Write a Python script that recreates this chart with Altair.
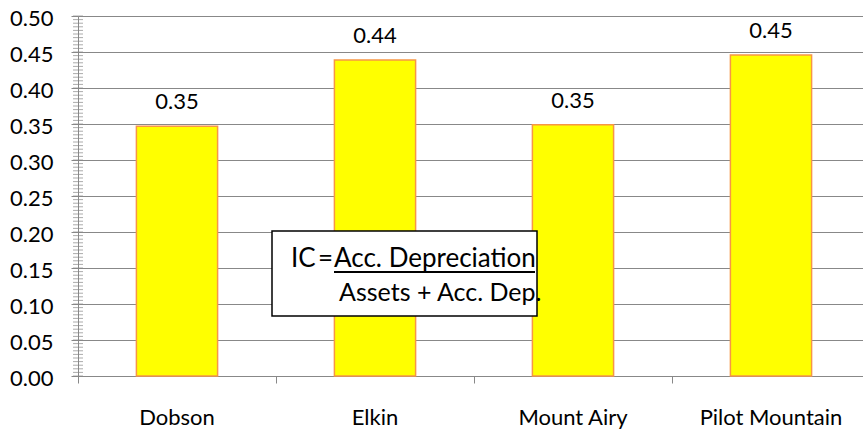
import altair as alt
import pandas as pd

# Index of Consumption per town
towns = ["Dobson", "Elkin", "Mount Airy", "Pilot Mountain"]
ic_values = [0.347, 0.439, 0.349, 0.446]

y_ticks = [0.0, 0.05, 0.10, 0.15, 0.20, 0.25, 0.30, 0.35, 0.40, 0.45, 0.50]

FONT = "Lato"
GRID = "#888888"

df = pd.DataFrame({"town": towns, "ic": ic_values})

x_scale = alt.Scale(range=[0, 792], paddingInner=0, paddingOuter=0)
y_scale = alt.Scale(domain=[0, 0.5], nice=False)

x_axis = alt.Axis(
    title=None,
    bandPosition=0,
    labelAngle=0,
    labelFont=FONT,
    labelFontSize=22,
    labelFontWeight=400,
    labelColor="#000000",
    labelPadding=24,
    tickSize=7,
    tickColor=GRID,
    domainColor=GRID,
    grid=False,
)
y_axis = alt.Axis(
    title=None,
    values=y_ticks,
    format=".2f",
    labelOverlap=False,
    labelFont=FONT,
    labelFontSize=22,
    labelFontWeight=400,
    labelColor="#000000",
    labelPadding=18,
    labelOffset=2,
    tickSize=7,
    tickColor=GRID,
    domainColor=GRID,
    grid=True,
    gridColor=GRID,
    gridWidth=1.2,
)

x_enc = alt.X("town:N", sort=towns, scale=x_scale, axis=x_axis)
y_enc = alt.Y("ic:Q", scale=y_scale, axis=y_axis)

base = alt.Chart(df)

bars = base.mark_bar(
    width=alt.RelativeBandSize(0.41),
    color="#FFFF00",
    stroke="#F79646",
    strokeWidth=1.5,
).encode(x=x_enc, y=y_enc)

labels = base.mark_text(
    baseline="alphabetic", dy=-17, font=FONT, fontSize=22, fontWeight=400,
    color="#000000"
).encode(
    x=x_enc,
    y=y_enc,
    text=alt.Text("ic:Q", format=".2f"),
)

# minor ticks crossing the value axis
minor = (
    alt.Chart(alt.sequence(0, 0.5001, 0.005, as_="ic"))
    .mark_tick(size=10, thickness=1, color=GRID)
    .encode(x=alt.value(0), y=y_enc)
)

one = alt.Data(values=[{"k": 1}])

box = alt.Chart(one).mark_rect(
    fill="#FFFFFF", stroke="#000000", strokeWidth=1.5
).encode(
    x=alt.value(194), x2=alt.value(459), y=alt.value(215), y2=alt.value(300)
)

def box_text(txt, x, y, size=26):
    return alt.Chart(one).mark_text(
        align="left", baseline="alphabetic", font=FONT, fontSize=size,
        fontWeight=400, color="#000000"
    ).encode(x=alt.value(x), y=alt.value(y), text=alt.value(txt))

ic_text = box_text("IC", 213, 251)
eq_text = box_text("=", 240, 251)
num_text = box_text("Acc. Depreciation", 256, 251)
den_text = box_text("Assets + Acc. Dep.", 261, 285, size=25)

underline = alt.Chart(one).mark_rule(color="#000000", strokeWidth=2).encode(
    x=alt.value(256), x2=alt.value(457), y=alt.value(256)
)

chart = (
    alt.layer(bars, labels, minor, box, ic_text, eq_text, num_text, den_text, underline)
    .properties(
        width=785,
        height=360,
        autosize=alt.AutoSizeParams(type="none"),
        padding={"left": 78, "top": 16, "right": 0, "bottom": 58},
    )
    .configure_view(stroke=None)
    .configure(background="#FFFFFF")
)

chart.save("out.html", embed_options={"renderer": "svg", "actions": False})
